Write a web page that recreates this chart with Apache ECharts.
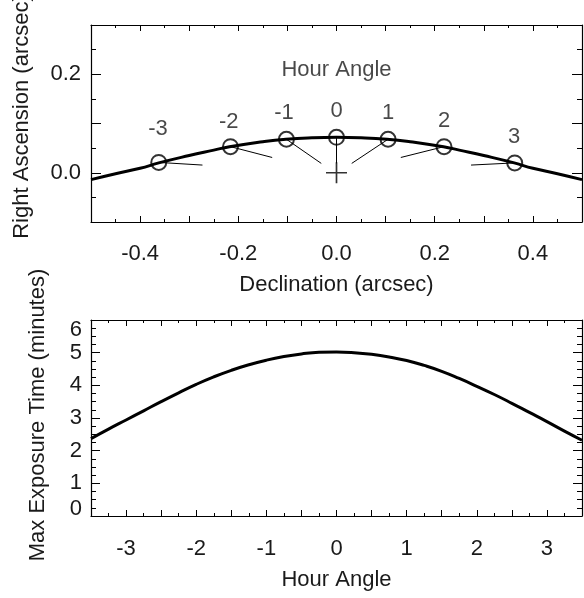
<!DOCTYPE html>
<html><head><meta charset="utf-8">
<script src="https://cdn.jsdelivr.net/npm/echarts@6/dist/echarts.min.js"></script>
<style>html,body{margin:0;padding:0;background:#fff}#c{width:584px;height:598px}</style>
</head><body><div id="c"></div>
<script>
// ---- Top panel: track on sky ----
const curveDec = [-0.5,-0.45,-0.4,-0.362,-0.3,-0.25,-0.218,-0.15,-0.103,-0.05,0,0.05,0.103,0.15,0.218,0.25,0.3,0.362,0.4,0.45,0.5];
const curveRA  = [-0.014,-0.002,0.009,0.020,0.035,0.046,0.053,0.063,0.068,0.071,0.072,0.071,0.068,0.063,0.053,0.046,0.035,0.020,0.009,-0.002,-0.014];
const hourAngles = [-3,-2,-1,0,1,2,3];
const circleDec = [-0.362,-0.216,-0.102,0.0,0.105,0.219,0.363];
const circleRA  = [0.021,0.053,0.068,0.072,0.068,0.053,0.020];
const vecEndDec = [-0.273,-0.131,-0.031,0.0,0.031,0.131,0.274];
const vecEndRA  = [0.0156,0.031,0.019,0.019,0.019,0.031,0.0156];
const haLabelDec = [-0.3635,-0.2195,-0.107,0.0,0.105,0.219,0.362];
const haLabelRA  = [0.0887,0.1036,0.1206,0.1259,0.1218,0.1056,0.0721];
const originPt = [0.0, 0.0];
const panelTitle = 'Hour Angle';
const panelTitlePos = [0.0, 0.209];

// ---- Bottom panel: exposure time ----
const expHA   = [-3.5,-3.25,-3,-2.75,-2.5,-2.25,-2,-1.75,-1.5,-1.25,-1,-0.75,-0.5,-0.25,0,0.25,0.5,0.75,1,1.25,1.5,1.75,2,2.25,2.5,2.75,3,3.25,3.5];
const expTime = [2.37,2.66,2.94,3.22,3.50,3.77,4.03,4.26,4.46,4.63,4.77,4.88,4.96,5.01,5.02,5.00,4.95,4.87,4.76,4.61,4.43,4.21,3.97,3.72,3.45,3.17,2.89,2.60,2.32];

const FONT = "'Liberation Sans', Arial, Helvetica, sans-serif";
const TXT = '#1a1a1a';
const FS = 22;

function isMult(v, step){ const r = v/step; return Math.abs(r-Math.round(r)) < 1e-6; }

function baseAxis(extra){
  return Object.assign({
    axisLine:{show:true,onZero:false,lineStyle:{color:'#000',width:1.2}},
    axisTick:{show:true,inside:true,length:6,lineStyle:{color:'#000',width:1}},
    minorTick:{show:true,length:3,lineStyle:{color:'#000',width:1}},
    splitLine:{show:false},
    axisLabel:{show:false}
  }, extra);
}

const xTopMain = baseAxis({type:'value',gridIndex:0,position:'bottom',min:-0.5,max:0.5,interval:0.1,
  minorTick:{show:true,splitNumber:2,length:3,lineStyle:{color:'#000'}},
  axisLabel:{show:true,color:TXT,fontSize:FS,fontFamily:FONT,margin:21,
    formatter:v=> isMult(v,0.2) ? (Math.abs(v)<1e-9?'0.0':v.toFixed(1)) : ''},
  name:'Declination (arcsec)',nameLocation:'middle',nameGap:52,
  nameTextStyle:{color:TXT,fontSize:FS,fontFamily:FONT}});
const xTopMirror = baseAxis({type:'value',gridIndex:0,position:'top',min:-0.5,max:0.5,interval:0.1,
  minorTick:{show:true,splitNumber:2,length:3,lineStyle:{color:'#000'}}});
const yTopMain = baseAxis({type:'value',gridIndex:0,position:'left',min:-0.1,max:0.3,interval:0.1,
  axisTick:{show:true,inside:true,length:10,lineStyle:{color:'#000'}},
  minorTick:{show:true,splitNumber:2,length:5,lineStyle:{color:'#000'}},
  axisLabel:{show:true,color:TXT,fontSize:FS,fontFamily:FONT,margin:10,padding:[7,0,0,0],
    formatter:v=> (Math.abs(v)<1e-9?'0.0':(Math.abs(v-0.2)<1e-9?'0.2':''))},
  name:'Right Ascension (arcsec)',nameLocation:'middle',nameGap:58,
  nameTextStyle:{color:TXT,fontSize:FS,fontFamily:FONT,padding:[0,0,0,14]}});
const yTopMirror = baseAxis({type:'value',gridIndex:0,position:'right',min:-0.1,max:0.3,interval:0.1,
  axisTick:{show:true,inside:true,length:10,lineStyle:{color:'#000'}},
  minorTick:{show:true,splitNumber:2,length:5,lineStyle:{color:'#000'}}});

const xBotMain = baseAxis({type:'value',gridIndex:1,position:'bottom',min:-3.5,max:3.5,interval:0.5,
  minorTick:{show:true,splitNumber:2,length:3,lineStyle:{color:'#000'}},
  axisLabel:{show:true,color:TXT,fontSize:FS,fontFamily:FONT,margin:22,
    formatter:v=> isMult(v,1) ? String(Math.round(v)) : ''},
  name:'Hour Angle',nameLocation:'middle',nameGap:53,
  nameTextStyle:{color:TXT,fontSize:FS,fontFamily:FONT}});
const xBotMirror = baseAxis({type:'value',gridIndex:1,position:'top',min:-3.5,max:3.5,interval:0.5,
  minorTick:{show:true,splitNumber:2,length:3,lineStyle:{color:'#000'}}});
const yBotMain = baseAxis({type:'value',gridIndex:1,position:'left',min:0,max:6,interval:1,
  axisTick:{show:true,inside:true,length:9,lineStyle:{color:'#000'}},
  minorTick:{show:true,splitNumber:4,length:5,lineStyle:{color:'#000'}},
  axisLabel:{show:true,color:TXT,fontSize:FS,fontFamily:FONT,margin:9,padding:[3,0,0,0],lineHeight:14,
    showMinLabel:true,showMaxLabel:true,
    verticalAlignMinLabel:'bottom',verticalAlignMaxLabel:'top'},
  name:'Max Exposure Time (minutes)',nameLocation:'middle',nameGap:42,
  nameTextStyle:{color:TXT,fontSize:FS,fontFamily:FONT,padding:[0,0,0,6]}});
const yBotMirror = baseAxis({type:'value',gridIndex:1,position:'right',min:0,max:6,interval:1,
  axisTick:{show:true,inside:true,length:9,lineStyle:{color:'#000'}},
  minorTick:{show:true,splitNumber:4,length:5,lineStyle:{color:'#000'}}});

// build data
const curveData = curveDec.map((x,i)=>[x,curveRA[i]]);
const vecData = [];
circleDec.forEach((x,i)=>{ vecData.push([x,circleRA[i]]); vecData.push([vecEndDec[i],vecEndRA[i]]); vecData.push(['-','-']); });
const circleData = circleDec.map((x,i)=>[x,circleRA[i]]);
const haLabelData = haLabelDec.map((x,i)=>({value:[x,haLabelRA[i]],name:String(hourAngles[i])}));
const expData = expHA.map((x,i)=>[x,expTime[i]]);

const chart = echarts.init(document.getElementById('c'), null, {renderer:'canvas'});
chart.setOption({
  animation:false,
  backgroundColor:'#fff',
  textStyle:{fontFamily:FONT},
  grid:[
    {left:91,top:25,width:491,height:197,containLabel:false,outerBoundsMode:'none'},
    {left:91,top:320,width:491,height:196,containLabel:false,outerBoundsMode:'none'}
  ],
  xAxis:[xTopMain,xTopMirror,xBotMain,xBotMirror],
  yAxis:[yTopMain,yTopMirror,yBotMain,yBotMirror],
  series:[
    {type:'line',xAxisIndex:0,yAxisIndex:0,data:curveData,smooth:true,showSymbol:false,symbol:'none',
      lineStyle:{color:'#000',width:3},z:3},
    {type:'line',xAxisIndex:0,yAxisIndex:0,data:vecData,connectNulls:false,showSymbol:false,symbol:'none',
      lineStyle:{color:'#000',width:1},z:2},
    {type:'scatter',xAxisIndex:0,yAxisIndex:0,data:circleData,symbol:'circle',symbolSize:15,
      itemStyle:{color:'rgba(0,0,0,0)',borderColor:'#000',borderWidth:2},z:4},
    {type:'scatter',xAxisIndex:0,yAxisIndex:0,data:[originPt],
      symbol:'path://M9.2,0h1.6v9.2h9.2v1.6h-9.2v9.2h-1.6v-9.2h-9.2v-1.6h9.2z',symbolSize:21,
      itemStyle:{color:'#000'},z:4},
    {type:'scatter',xAxisIndex:0,yAxisIndex:0,data:haLabelData,symbolSize:0,
      label:{show:true,position:'inside',formatter:p=>p.name,color:TXT,fontSize:FS,fontFamily:FONT},z:5},
    {type:'scatter',xAxisIndex:0,yAxisIndex:0,data:[{value:panelTitlePos,name:panelTitle}],symbolSize:0,
      label:{show:true,position:'inside',formatter:p=>p.name,color:TXT,fontSize:FS,fontFamily:FONT},z:5},
    {type:'line',xAxisIndex:2,yAxisIndex:2,data:expData,smooth:true,showSymbol:false,symbol:'none',
      lineStyle:{color:'#000',width:3},z:3}
  ]
});
</script></body></html>
